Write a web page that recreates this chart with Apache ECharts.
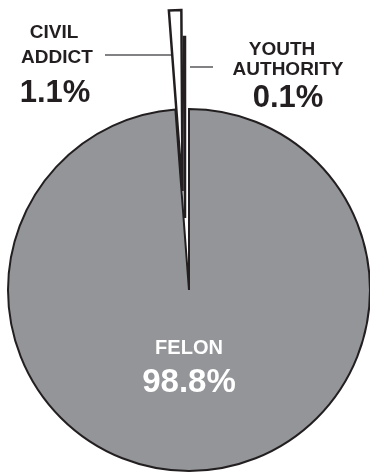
<!DOCTYPE html>
<html><head><meta charset="utf-8">
<script src="https://cdn.jsdelivr.net/npm/echarts@6/dist/echarts.min.js"></script>
<style>html,body{margin:0;padding:0;background:#fff}#c{width:370px;height:472px}</style>
</head><body><div id="c"></div>
<script>
const categories = ['FELON', 'CIVIL ADDICT', 'YOUTH AUTHORITY'];
const labelLines = [['FELON'], ['CIVIL', 'ADDICT'], ['YOUTH', 'AUTHORITY']];
const values = [98.8, 1.1, 0.1];

const INK = '#231f20';
const FONT = '"Liberation Sans", Arial, sans-serif';
const chart = echarts.init(document.getElementById('c'), null, {renderer: 'canvas'});

function sliceSeries(visible, center, fill, bw) {
  return {
    type: 'pie', silent: true, animation: false, z: 2,
    center: center, radius: [0, 181],
    startAngle: 90, clockwise: true, minAngle: 0,
    label: {show: false}, labelLine: {show: false},
    emphasis: {disabled: true},
    data: categories.map((n, i) => ({
      name: n, value: values[i],
      itemStyle: i === visible
        ? {color: fill, borderColor: INK, borderWidth: bw, borderJoin: 'miter'}
        : {color: 'rgba(0,0,0,0)', borderWidth: 0}
    }))
  };
}

const pct = v => v.toFixed(1) + '%';
function txt(x, y, text, size, color) {
  return {type: 'text', x: x, y: y, silent: true, z: 100,
    style: {text: text, fill: color, font: 'bold ' + size + 'px ' + FONT,
      textAlign: 'center', textVerticalAlign: 'middle'}};
}

chart.setOption({
  backgroundColor: '#ffffff',
  animation: false,
  series: [
    sliceSeries(0, [189, 290], '#939598', 2),
    sliceSeries(1, [182.5, 191], '#ffffff', 2.5),
    sliceSeries(2, [185, 218], INK, 2.5)
  ],
  graphic: {
    elements: [
      {type: 'line', silent: true, z: 100, shape: {x1: 105, y1: 55, x2: 171, y2: 55}, style: {stroke: '#58595b', lineWidth: 1.5}},
      {type: 'line', silent: true, z: 100, shape: {x1: 190, y1: 67, x2: 213, y2: 67}, style: {stroke: '#58595b', lineWidth: 1.5}},
      txt(54, 33, labelLines[1][0], 19, INK),
      txt(57, 58, labelLines[1][1], 19, INK),
      txt(55, 93, pct(values[1]), 31, INK),
      txt(282, 50, labelLines[2][0], 19, INK),
      txt(288, 70, labelLines[2][1], 19, INK),
      txt(288, 98, pct(values[2]), 31, INK),
      txt(189, 348, labelLines[0][0], 20, '#ffffff'),
      txt(189, 383, pct(values[0]), 33, '#ffffff')
    ]
  }
});
</script>
</body></html>
